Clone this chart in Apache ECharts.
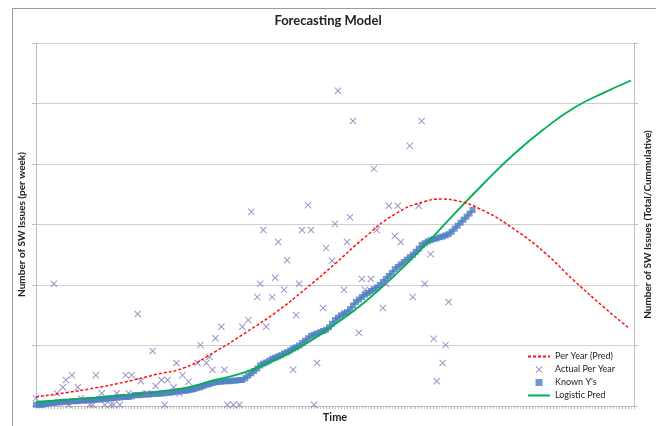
<!DOCTYPE html>
<html>
<head>
<meta charset="utf-8">
<script src="https://cdn.jsdelivr.net/npm/echarts@6/dist/echarts.min.js"></script>
<style>
html,body{margin:0;padding:0;background:#fff;}
#chart{width:656px;height:426px;}
</style>
</head>
<body>
<div id="chart"></div>
<script>
// ---- data (y in gridline units, x = time index) ----
const knownY = [
0.02,0.02,0.02,0.03,0.04,0.05,0.05,0.06,0.06,0.07,
0.07,0.07,0.08,0.08,0.08,0.09,0.09,0.09,0.10,0.10,
0.10,0.11,0.11,0.12,0.12,0.13,0.13,0.14,0.14,0.15,
0.15,0.15,0.16,0.18,0.18,0.18,0.19,0.19,0.19,0.20,
0.20,0.20,0.21,0.21,0.22,0.22,0.23,0.24,0.24,0.25,
0.25,0.26,0.27,0.28,0.30,0.31,0.33,0.35,0.36,0.38,
0.39,0.40,0.40,0.41,0.41,0.41,0.42,0.42,0.43,0.43,
0.46,0.50,0.54,0.58,0.62,0.67,0.70,0.72,0.75,0.78,
0.80,0.82,0.84,0.87,0.89,0.92,0.95,0.97,1.00,1.04,
1.08,1.12,1.16,1.18,1.20,1.22,1.24,1.26,1.30,1.36,
1.42,1.46,1.50,1.53,1.55,1.60,1.66,1.72,1.76,1.80,
1.84,1.87,1.90,1.93,1.96,2.00,2.05,2.10,2.15,2.20,
2.26,2.30,2.34,2.38,2.42,2.46,2.50,2.55,2.60,2.66,
2.69,2.72,2.74,2.76,2.77,2.79,2.80,2.82,2.84,2.88,
2.93,2.98,3.03,3.08,3.13,3.18,3.24];

const logisticX = [0,10,20,30,40,50,60,70,80,90,100,110,120,130,140,150,160,170,180,190,199];
const logisticY = [0.07,0.10,0.14,0.18,0.23,0.30,0.43,0.56,0.76,1.02,1.35,1.72,2.16,2.65,3.18,3.69,4.17,4.58,4.93,5.18,5.38];

const perYearX = [0,10,20,30,40,50,60,70,80,90,100,110,120,130,136,140,150,160,170,180,190,198];
const perYearY = [0.15,0.22,0.30,0.40,0.52,0.64,0.90,1.21,1.54,1.93,2.35,2.79,3.17,3.38,3.42,3.40,3.22,2.92,2.54,2.07,1.63,1.30];

const actualX = [0,6,7,9,10,12,14,15,11,18,19,20,22,23,25,26,27,28,30,31,32,34,35,37,39,40,42,43,44,46,47,48,49,51,54,55,57,58,59,60,62,63,64,66,68,69,71,72,74,75,76,77,79,80,81,83,84,86,87,88,89,91,92,93,94,96,97,99,100,101,103,104,105,106,108,109,110,112,113,114,116,117,118,120,121,122,125,126,128,129,130,132,133,134,136,137,138];
const actualY = [0.13,2.02,0.21,0.31,0.43,0.51,0.31,0.13,0.02,0.02,0.02,0.51,0.21,0.02,0.02,0.02,0.21,0.02,0.51,0.21,0.51,1.52,0.41,0.21,0.91,0.33,0.43,0.02,0.43,0.31,0.71,0.21,0.51,0.40,0.71,1.01,0.71,0.81,0.60,1.12,1.31,0.60,0.02,0.02,0.02,1.31,1.42,3.21,1.80,2.02,2.91,1.31,1.80,2.12,2.71,1.92,2.41,0.60,1.50,2.02,2.91,3.32,2.91,0.02,0.71,1.62,2.61,2.40,3.01,5.21,1.92,2.71,3.12,4.71,1.21,2.10,1.92,2.10,3.92,2.91,1.62,2.02,3.31,2.81,3.31,2.71,4.30,1.80,3.31,4.71,2.02,2.51,1.11,0.41,0.71,1.01,1.72];

const seriesNames = ['Per Year (Pred)', 'Actual Per Year', "Known Y's", 'Logistic Pred'];
const titleText = 'Forecasting Model';
const xName = 'Time';
const yLeftName = 'Number of SW Issues (per week)';
const yRightName = 'Number of SW Issues (Total/Cummulative)';

// ---- build ----
const zip = (xs, ys) => xs.map((x, i) => [x, ys[i]]);
const knownData = knownY.map((v, i) => [i, v]);
const FONT = 'Lato, "Liberation Sans", sans-serif';
const crossPath = 'path://M0,1L1,0L5,4L9,0L10,1L6,5L10,9L9,10L5,6L1,10L0,9L4,5Z';
const squarePath = 'path://M0,0L10,0L10,10L0,10Z';

const chart = echarts.init(document.getElementById('chart'), null, {renderer: 'canvas'});
chart.setOption({
  animation: false,
  backgroundColor: '#fff',
  graphic: [{
    type: 'rect', silent: true,
    shape: {x: 12.5, y: 8.5, width: 700, height: 500},
    style: {fill: 'none', stroke: '#9a9a9a', lineWidth: 1}
  }],
  title: {
    text: titleText, left: 'center', top: 9,
    textStyle: {fontFamily: FONT, fontSize: 13, fontWeight: 'bold', color: '#222'}
  },
  legend: {
    orient: 'vertical', left: 522, top: 347,
    itemWidth: 22, itemHeight: 7, itemGap: 4,
    textStyle: {fontFamily: FONT, fontSize: 9, color: '#222'},
    data: [
      {name: seriesNames[0], itemStyle: {opacity: 0}},
      {name: seriesNames[1]},
      {name: seriesNames[2]},
      {name: seriesNames[3], itemStyle: {opacity: 0}}
    ]
  },
  grid: {left: 36, right: 22, top: 43, bottom: 20, containLabel: false, outerBoundsMode: 'none'},
  xAxis: {
    type: 'value', min: 0, max: 200, interval: 1,
    name: xName, nameLocation: 'middle', nameGap: 6,
    nameTextStyle: {fontFamily: FONT, fontSize: 11, fontWeight: 'bold', color: '#222'},
    axisLine: {show: true, lineStyle: {color: '#bdbdbd'}},
    axisTick: {show: true, length: 3, lineStyle: {color: '#bdbdbd'}},
    axisLabel: {show: false},
    splitLine: {show: false}
  },
  yAxis: [{
    type: 'value', min: 0, max: 6, interval: 1,
    name: yLeftName, nameLocation: 'middle', nameGap: 9, nameRotate: 90,
    nameTextStyle: {fontFamily: FONT, fontSize: 10, fontWeight: 'bold', color: '#222'},
    axisLine: {show: true, lineStyle: {color: '#bdbdbd'}},
    axisTick: {show: true, length: 4, lineStyle: {color: '#bdbdbd'}},
    axisLabel: {show: false},
    splitLine: {show: true, lineStyle: {color: '#cfcfcf'}}
  }, {
    type: 'value', min: 0, max: 6, interval: 1, position: 'right',
    name: yRightName, nameLocation: 'middle', nameGap: 9, nameRotate: 90,
    nameTextStyle: {fontFamily: FONT, fontSize: 10, fontWeight: 'bold', color: '#222'},
    axisLine: {show: true, lineStyle: {color: '#bdbdbd'}},
    axisTick: {show: true, length: 4, lineStyle: {color: '#bdbdbd'}},
    axisLabel: {show: false},
    splitLine: {show: false}
  }],
  series: [{
    name: seriesNames[0], type: 'line', yAxisIndex: 0,
    data: zip(perYearX, perYearY), smooth: true, symbol: 'none',
    lineStyle: {color: '#ff1010', width: 1.5, type: [3, 2]},
    itemStyle: {color: '#ff1010'}, z: 4
  }, {
    name: seriesNames[1], type: 'scatter', yAxisIndex: 0,
    data: zip(actualX, actualY), symbol: crossPath, symbolSize: 7,
    itemStyle: {color: '#8577bb'}, z: 3
  }, {
    name: seriesNames[2], type: 'scatter', yAxisIndex: 1,
    data: knownData, symbol: squarePath, symbolSize: 6,
    itemStyle: {color: '#4a7ebf'}, z: 2
  }, {
    name: seriesNames[3], type: 'line', yAxisIndex: 1,
    data: zip(logisticX, logisticY), smooth: true, symbol: 'none',
    lineStyle: {color: '#00b050', width: 1.8},
    itemStyle: {color: '#00b050'}, z: 3
  }]
});
</script>
</body>
</html>
